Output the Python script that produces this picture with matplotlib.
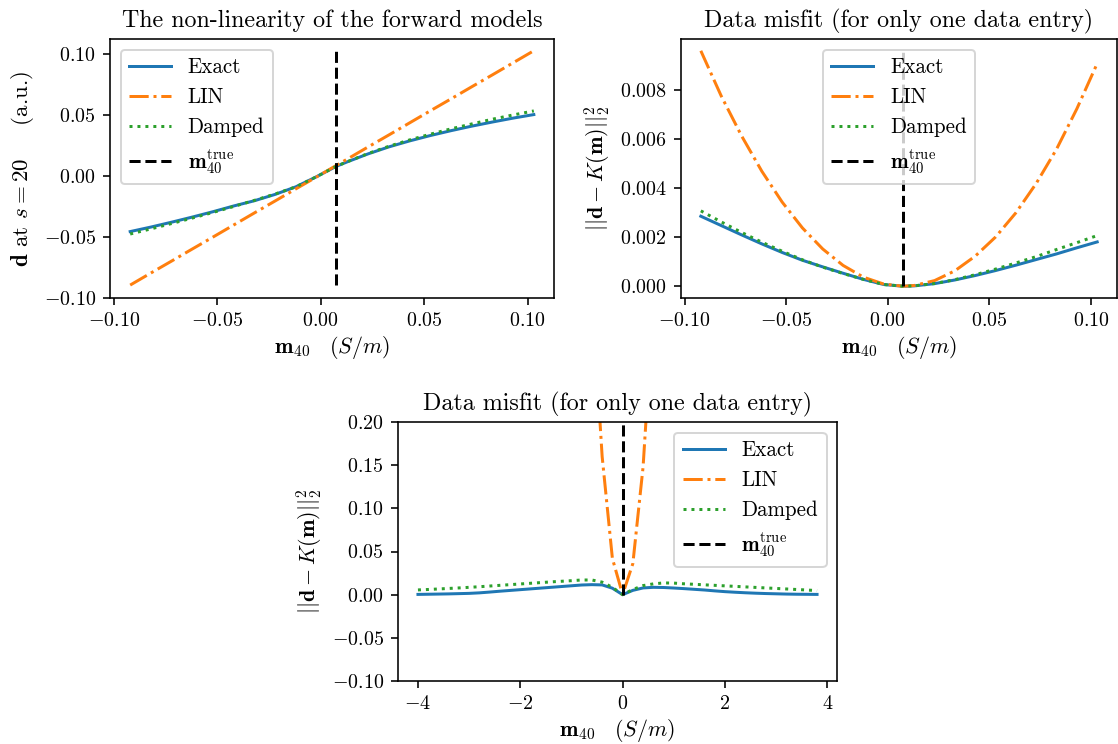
import matplotlib
matplotlib.use("Agg")
import matplotlib.pyplot as plt

plt.rcParams['font.family'] = 'serif'
plt.rcParams['font.serif'] = ['cmr10']
plt.rcParams['mathtext.fontset'] = 'cm'
plt.rcParams['axes.formatter.use_mathtext'] = True
plt.rcParams['axes.unicode_minus'] = True

# ---------------- data ----------------
m_true = 0.0075

m_small = [-0.092, -0.082, -0.072, -0.062, -0.052, -0.042, -0.032, -0.022, -0.012, -0.002,
           0.0075, 0.013, 0.023, 0.033, 0.043, 0.053, 0.063, 0.073, 0.083, 0.093, 0.103]

d_exact = [-0.0455, -0.0418, -0.0378, -0.0336, -0.0292, -0.0245, -0.0202, -0.0150, -0.0088, -0.0005,
           0.0080, 0.0118, 0.0183, 0.0240, 0.0289, 0.0333, 0.0373, 0.0410, 0.0444, 0.0476, 0.0505]
d_lin = [-0.0894, -0.0795, -0.0697, -0.0598, -0.0500, -0.0401, -0.0302, -0.0204, -0.0105, -0.0007,
         0.0087, 0.0141, 0.0240, 0.0338, 0.0437, 0.0536, 0.0634, 0.0733, 0.0831, 0.0930, 0.1029]
d_damped = [-0.0475, -0.0433, -0.0389, -0.0344, -0.0298, -0.0249, -0.0199, -0.0147, -0.0088, -0.0005,
            0.0080, 0.0119, 0.0186, 0.0245, 0.0297, 0.0344, 0.0388, 0.0428, 0.0467, 0.0502, 0.0535]

mis_exact = [0.00286, 0.00248, 0.00210, 0.00173, 0.00138, 0.00106, 0.00079, 0.00053, 0.00028, 0.00007,
             0.0, 0.000014, 0.000106, 0.000256, 0.000437, 0.00064, 0.00086, 0.00109, 0.00132, 0.00157, 0.00181]
mis_lin = [0.00962, 0.00778, 0.00615, 0.00470, 0.00344, 0.00238, 0.00152, 0.00085, 0.00037, 0.000088,
           0.0, 0.000029, 0.00023, 0.00063, 0.00123, 0.00201, 0.00300, 0.00420, 0.00560, 0.00725, 0.00910]
mis_damped = [0.00308, 0.00263, 0.00220, 0.00180, 0.00143, 0.00108, 0.00078, 0.00052, 0.00028, 0.00007,
              0.0, 0.000015, 0.00011, 0.00027, 0.00047, 0.00070, 0.00095, 0.00121, 0.00150, 0.00178, 0.00207]

m_wide = [-4.0, -3.8, -3.6, -3.4, -3.2, -3.0, -2.8, -2.6, -2.4, -2.2,
          -2.0, -1.8, -1.6, -1.4, -1.2, -1.0, -0.8, -0.6, -0.4, -0.2,
          0.0, 0.2, 0.4, 0.6, 0.8, 1.0, 1.2, 1.4, 1.6, 1.8,
          2.0, 2.2, 2.4, 2.6, 2.8, 3.0, 3.2, 3.4, 3.6, 3.8]
wide_exact = [0.0003, 0.0005, 0.0007, 0.0009, 0.0012, 0.0015, 0.0021, 0.0030, 0.0040, 0.0049,
              0.0058, 0.0067, 0.0076, 0.0085, 0.0094, 0.0103, 0.0112, 0.0116, 0.0113, 0.0075,
              0.0000, 0.0050, 0.0078, 0.0085, 0.0083, 0.0077, 0.0070, 0.0062, 0.0054, 0.0044,
              0.0035, 0.0028, 0.0022, 0.0017, 0.0013, 0.0010, 0.0007, 0.0005, 0.0004, 0.0003]
wide_lin = [15.4, 13.9, 12.5, 11.1, 9.9, 8.7, 7.6, 6.5, 5.6, 4.7,
            3.9, 3.1, 2.5, 1.9, 1.4, 0.97, 0.63, 0.35, 0.16, 0.042,
            0.0001, 0.036, 0.148, 0.337, 0.60, 0.95, 1.37, 1.86, 2.44, 3.09,
            3.81, 4.62, 5.50, 6.45, 7.49, 8.6, 9.79, 11.05, 12.4, 13.8]
wide_damped = [0.0055, 0.0060, 0.0066, 0.0072, 0.0078, 0.0085, 0.0092, 0.0100, 0.0108, 0.0116,
               0.0124, 0.0132, 0.0140, 0.0148, 0.0155, 0.0162, 0.0170, 0.0170, 0.0145, 0.0085,
               0.0000, 0.0060, 0.0105, 0.0125, 0.0136, 0.0134, 0.0126, 0.0120, 0.0114, 0.0108,
               0.0102, 0.0096, 0.0090, 0.0084, 0.0078, 0.0072, 0.0066, 0.0060, 0.0054, 0.0047]

labels = ["Exact", "LIN", "Damped", r"$\mathbf{m}_{40}^{\mathrm{true}}$"]
xlab = r"$\mathbf{m}_{40}\quad(S/m)$"
mis_lab = r"$||\mathbf{d}-K(\mathbf{m})||_2^2$"

xticks_small = [-0.10, -0.05, 0.00, 0.05, 0.10]
yticks_d = [-0.10, -0.05, 0.00, 0.05, 0.10]
yticks_mis = [0.000, 0.002, 0.004, 0.006, 0.008]
xticks_wide = [-4, -2, 0, 2, 4]
yticks_wide = [-0.10, -0.05, 0.00, 0.05, 0.10, 0.15, 0.20]

# ---------------- figure ----------------
W, H = 1118, 744
fig = plt.figure(figsize=(W / 144, H / 144), dpi=144)

ax1 = fig.add_axes([110 / W, 1 - 298 / H, 444 / W, 259 / H])
ax2 = fig.add_axes([681 / W, 1 - 298 / H, 436 / W, 259 / H])
ax3 = fig.add_axes([398 / W, 1 - 681 / H, 439 / W, 259 / H])

def draw(ax, x, e, l, d, vmin, vmax, loc):
    ax.plot(x, e, '-', color='C0', label=labels[0])
    ax.plot(x, l, '-.', color='C1', label=labels[1])
    ax.plot(x, d, ':', color='C2', label=labels[2])
    ax.vlines(m_true, vmin, vmax, colors='k', linestyles='--', label=labels[3])
    ax.legend(loc=loc, fontsize=10.5)
    ax.set_xlabel(xlab, fontsize=11, labelpad=2)

draw(ax1, m_small, d_exact, d_lin, d_damped, min(d_lin), max(d_lin), 'upper left')
ax1.set_title("The non-linearity of the forward models", fontsize=12)
ax1.set_ylabel(r"$\mathbf{d}$ at $s=20\quad\;$ (a.u.)", fontsize=11.5)
ax1.set_yticks(yticks_d)
ax1.set_xticks(xticks_small)

draw(ax2, m_small, mis_exact, mis_lin, mis_damped, 0.0, max(mis_lin), 'upper center')
ax2.set_title("Data misfit (for only one data entry)", fontsize=12)
ax2.set_ylabel(mis_lab, fontsize=11)
ax2.set_yticks(yticks_mis)
ax2.set_xticks(xticks_small)

draw(ax3, m_wide, wide_exact, wide_lin, wide_damped, 0.0, 0.2, 'upper right')
ax3.set_ylim(-0.1, 0.2)
ax3.set_yticks(yticks_wide)
ax3.set_title("Data misfit (for only one data entry)", fontsize=12)
ax3.set_ylabel(mis_lab, fontsize=11)
ax3.set_xticks(xticks_wide)

fig.savefig("out.png", dpi=144)
